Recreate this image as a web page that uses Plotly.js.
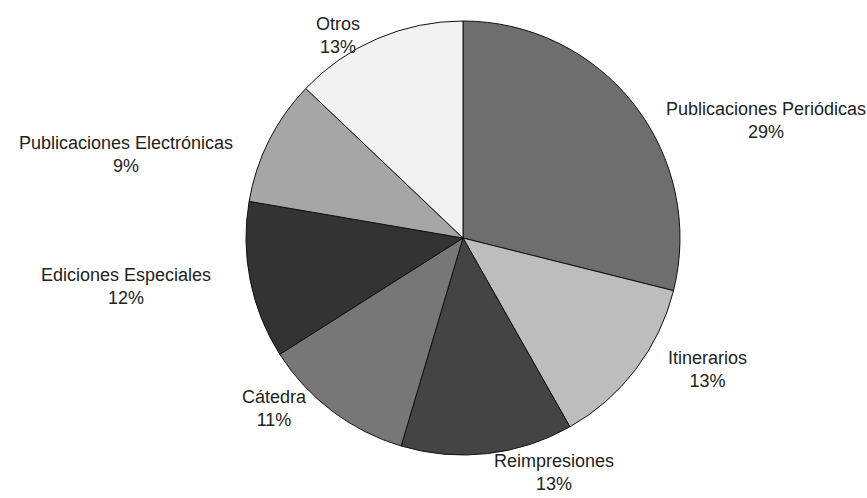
<!DOCTYPE html>
<html>
<head>
<meta charset="utf-8">
<script src="https://cdn.plot.ly/plotly-3.0.1.min.js"></script>
<style>html,body{margin:0;padding:0;background:#fff;}#chart{width:867px;height:498px;}</style>
</head>
<body>
<div id="chart"></div>
<script>
// Data (clockwise from 12 o'clock)
const categories = ["Publicaciones Periódicas", "Itinerarios", "Reimpresiones", "Cátedra", "Ediciones Especiales", "Publicaciones Electrónicas", "Otros"];
const values = [28.9, 12.9, 12.8, 11.4, 11.7, 9.4, 12.9];
const colors = ["#6e6e6e", "#bdbdbd", "#444444", "#777777", "#333333", "#a6a6a6", "#f2f2f2"];

const W = 867, H = 498;
const cx = 463, cy = 238, R = 217;       // pie centre and radius in pixels
const Rx = 255, Ry = 204, labelDy = 8;  // label ring

const total = values.reduce((a, b) => a + b, 0);
const pct = values.map(v => Math.round(v / total * 100) + "%");

// Label annotations positioned from each slice's mid-angle
const annotations = [];
let cum = 0;
values.forEach((v, i) => {
  const mid = (cum + v / 2) / total * 2 * Math.PI;
  cum += v;
  const dx = Math.sin(mid), dy = -Math.cos(mid);
  const px = cx + Rx * dx, py = cy + labelDy + Ry * dy;
  let xanchor = dx > 0.05 ? "left" : (dx < -0.05 ? "right" : "center");
  let yanchor = "middle";
  if (Math.abs(dy) > 0.85) yanchor = dy > 0 ? "top" : "bottom";
  annotations.push({
    x: px / W, y: 1 - py / H, xref: "paper", yref: "paper",
    xanchor: xanchor, yanchor: yanchor, align: "center",
    showarrow: false,
    text: categories[i] + "<br>" + pct[i],
    font: {family: "Liberation Sans, Arial, sans-serif", size: 18, color: "#222"}
  });
});

const trace = {
  type: "pie",
  labels: categories,
  values: values,
  sort: false,
  direction: "clockwise",
  rotation: 0,
  textinfo: "none",
  hoverinfo: "none",
  marker: {colors: colors, line: {color: "#111", width: 1}},
  domain: {x: [(cx - R) / W, (cx + R) / W], y: [1 - (cy + R) / H, 1 - (cy - R) / H]}
};

const layout = {
  width: W, height: H,
  margin: {l: 0, r: 0, t: 0, b: 0},
  paper_bgcolor: "#fff",
  showlegend: false,
  annotations: annotations
};

Plotly.newPlot("chart", [trace], layout, {displayModeBar: false, staticPlot: true});
</script>
</body>
</html>
